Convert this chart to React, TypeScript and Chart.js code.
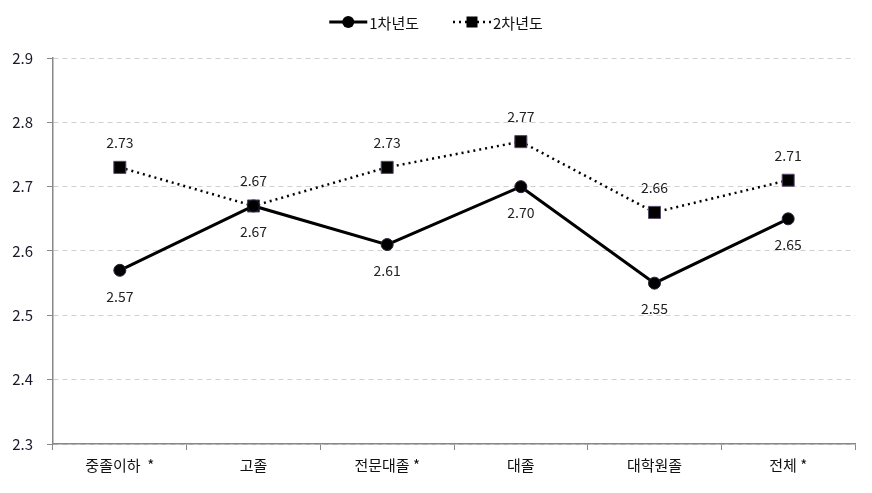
import React, { useEffect, useRef } from "react";
import { Chart, registerables } from "chart.js";

Chart.register(...registerables);

const categories = ["중졸이하  *", "고졸", "전문대졸 *", "대졸", "대학원졸", "전체 *"];
const year1 = [2.57, 2.67, 2.61, 2.7, 2.55, 2.65];
const year2 = [2.73, 2.67, 2.73, 2.77, 2.66, 2.71];
const seriesNames = ["1차년도", "2차년도"];
const yTicks = [2.3, 2.4, 2.5, 2.6, 2.7, 2.8, 2.9];

const FONT = "'Noto Sans CJK KR', 'Noto Sans', sans-serif";

const labelPlugin = {
  id: "valueLabels",
  afterDatasetsDraw(chart: any) {
    const ctx = chart.ctx;
    ctx.save();
    ctx.font = `14px ${FONT}`;
    ctx.fillStyle = "#222";
    ctx.textAlign = "center";
    ctx.textBaseline = "middle";
    chart.data.datasets.forEach((ds: any, di: number) => {
      const meta = chart.getDatasetMeta(di);
      meta.data.forEach((pt: any, i: number) => {
        const v = ds.data[i] as number;
        const dy = di === 0 ? 26 : -25;
        ctx.fillText(v.toFixed(2), pt.x, pt.y + dy);
      });
    });
    ctx.restore();
  },
};

const legendPlugin = {
  id: "customLegend",
  afterDraw(chart: any) {
    const ctx = chart.ctx;
    ctx.save();
    ctx.font = `15px ${FONT}`;
    const iconW = 38;
    const gap = 2;
    const itemGap = 34;
    const dsets = chart.data.datasets;
    const widths = dsets.map((d: any) => iconW + gap + ctx.measureText(d.label).width);
    const total = widths.reduce((a: number, b: number) => a + b, 0) + itemGap * (dsets.length - 1);
    let x = (chart.width - total) / 2;
    const y = 22;
    dsets.forEach((d: any, i: number) => {
      ctx.strokeStyle = "#000";
      ctx.fillStyle = "#000";
      ctx.lineWidth = i === 0 ? 3 : 2.5;
      ctx.setLineDash(i === 0 ? [] : [2, 4]);
      ctx.beginPath();
      ctx.moveTo(x, y);
      ctx.lineTo(x + iconW, y);
      ctx.stroke();
      ctx.setLineDash([]);
      const cx = x + iconW / 2;
      if (i === 0) {
        ctx.beginPath();
        ctx.arc(cx, y, 6, 0, Math.PI * 2);
        ctx.fill();
      } else {
        ctx.fillRect(cx - 5.5, y - 5.5, 11, 11);
      }
      ctx.fillStyle = "#111";
      ctx.textAlign = "left";
      ctx.textBaseline = "middle";
      ctx.fillText(d.label, x + iconW + gap, y + 1);
      x += widths[i] + itemGap;
    });
    ctx.restore();
  },
};

export default function App() {
  const ref = useRef<HTMLCanvasElement>(null);
  useEffect(() => {
    document.body.style.margin = "0";
    const chart = new Chart(ref.current!, {
      type: "line",
      data: {
        labels: categories,
        datasets: [
          {
            label: seriesNames[0],
            data: year1,
            borderColor: "#000",
            backgroundColor: "#000",
            borderWidth: 3,
            pointStyle: "circle",
            pointRadius: 6,
            pointBorderColor: "#2a1f3a",
            pointBackgroundColor: "#000",
            pointBorderWidth: 1,
            tension: 0,
          },
          {
            label: seriesNames[1],
            data: year2,
            borderColor: "#000",
            backgroundColor: "#000",
            borderWidth: 2.5,
            borderDash: [2, 4],
            pointStyle: "rect",
            pointRadius: 8.5,
            pointBorderColor: "#5a4a6a",
            pointBackgroundColor: "#000",
            pointBorderWidth: 1,
            tension: 0,
          },
        ],
      },
      options: {
        animation: false,
        responsive: false,
        layout: { padding: { top: 58, right: 17, left: 0, bottom: 0 } },
        plugins: {
          legend: { display: false },
          tooltip: { enabled: false },
        },
        scales: {
          x: {
            offset: true,
            grid: {
              display: true,
              drawOnChartArea: false,
              drawTicks: true,
              tickLength: 6,
              tickColor: "#888",
              offset: true,
            },
            border: { display: true, color: "#888", width: 1.5 },
            ticks: {
              color: "#111",
              font: { family: FONT, size: 15 },
              padding: 6,
              maxRotation: 0,
            },
            afterFit: (s: any) => {
              s.height = 49;
            },
          },
          y: {
            min: 2.3,
            max: 2.9,
            afterBuildTicks: (s: any) => {
              s.ticks = yTicks.map((v) => ({ value: v }));
            },
            grid: {
              color: "#d0d0d0",
              lineWidth: 1,
              drawTicks: true,
              tickLength: 6,
              tickColor: "#888",
              tickBorderDash: [],
            },
            border: { display: true, color: "#888", width: 1.5, dash: [5, 4] },
            ticks: {
              color: "#1a1a2a",
              font: { family: FONT, size: 15 },
              padding: 14,
              callback: (v: any) => Number(v).toFixed(1),
            },
            afterFit: (s: any) => {
              s.width = 53;
            },
          },
        },
      },
      plugins: [labelPlugin, legendPlugin],
    });
    return () => chart.destroy();
  }, []);
  return (
    <div style={{ position: "absolute", left: 0, top: 0, width: 872, height: 493 }}>
      <canvas ref={ref} width={872} height={493} style={{ width: 872, height: 493 }} />
    </div>
  );
}
